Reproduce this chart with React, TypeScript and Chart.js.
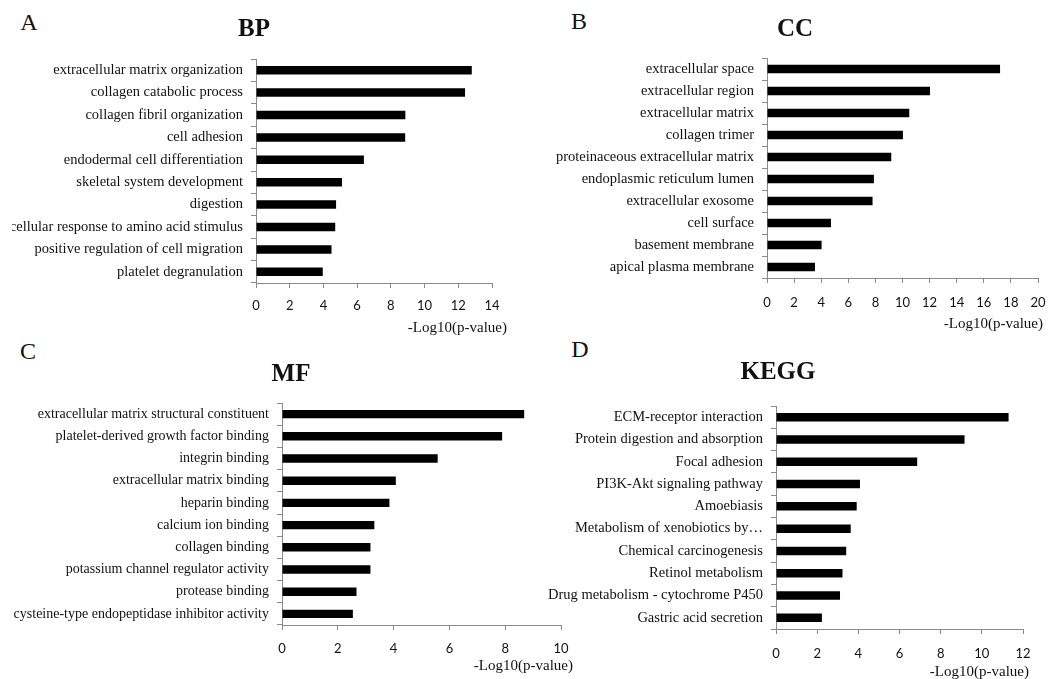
import React, { useEffect, useRef } from "react";
import { Chart, registerables } from "chart.js";

Chart.register(...registerables);

// ---------- DATA ----------
const bpLabels = [
  "extracellular matrix organization",
  "collagen catabolic process",
  "collagen fibril organization",
  "cell adhesion",
  "endodermal cell differentiation",
  "skeletal system development",
  "digestion",
  "cellular response to amino acid stimulus",
  "positive regulation of cell migration",
  "platelet degranulation",
];
const bpValues = [12.8, 12.4, 8.86, 8.85, 6.4, 5.1, 4.75, 4.7, 4.48, 3.96];

const ccLabels = [
  "extracellular space",
  "extracellular region",
  "extracellular matrix",
  "collagen trimer",
  "proteinaceous extracellular matrix",
  "endoplasmic reticulum lumen",
  "extracellular exosome",
  "cell surface",
  "basement membrane",
  "apical plasma membrane",
];
const ccValues = [17.2, 12.03, 10.5, 10.03, 9.17, 7.89, 7.79, 4.72, 4.03, 3.54];

const mfLabels = [
  "extracellular matrix structural constituent",
  "platelet-derived growth factor binding",
  "integrin binding",
  "extracellular matrix binding",
  "heparin binding",
  "calcium ion binding",
  "collagen binding",
  "potassium channel regulator activity",
  "protease binding",
  "cysteine-type endopeptidase inhibitor activity",
];
const mfValues = [8.68, 7.89, 5.58, 4.08, 3.85, 3.31, 3.17, 3.17, 2.67, 2.54];

const keggLabels = [
  "ECM-receptor interaction",
  "Protein digestion and absorption",
  "Focal adhesion",
  "PI3K-Akt signaling pathway",
  "Amoebiasis",
  "Metabolism of xenobiotics by…",
  "Chemical carcinogenesis",
  "Retinol metabolism",
  "Drug metabolism - cytochrome P450",
  "Gastric acid secretion",
];
const keggValues = [11.3, 9.16, 6.86, 4.08, 3.92, 3.63, 3.41, 3.23, 3.11, 2.23];

const axisMax = { bp: 14, cc: 20, mf: 10, kegg: 12 };
const axisStep = 2;
const xAxisTitle = "-Log10(p-value)";

// ---------- LAYOUT / STYLE ----------
const SERIF = "'Liberation Serif', 'Times New Roman', serif";
const SANS = "Lato, 'Open Sans', sans-serif";
const AXIS_COLOR = "#8a8a8a";
const TEXT_COLOR = "#111";

type Panel = {
  letter: string;
  title: string;
  labels: string[];
  values: number[];
  max: number;
  canvasLeft: number;
  x0: number;
  x1: number;
  y0: number;
  y1: number;
  labelSize: number;
  tickPad: number;
  letterX: number;
  letterY: number;
  titleX: number;
  titleY: number;
  axisTitleRight: number;
  axisTitleY: number;
};

const panels: Panel[] = [
  {
    letter: "A", title: "BP", labels: bpLabels, values: bpValues, max: axisMax.bp,
    canvasLeft: 12, x0: 256, x1: 492, y0: 59, y1: 283, labelSize: 14.5, tickPad: 10,
    letterX: 29, letterY: 21.5, titleX: 254, titleY: 27, axisTitleRight: 507, axisTitleY: 326.5,
  },
  {
    letter: "B", title: "CC", labels: ccLabels, values: ccValues, max: axisMax.cc,
    canvasLeft: 530, x0: 767, x1: 1038, y0: 58, y1: 278, labelSize: 14.5, tickPad: 12,
    letterX: 579, letterY: 20.5, titleX: 795, titleY: 26.5, axisTitleRight: 1043, axisTitleY: 323,
  },
  {
    letter: "C", title: "MF", labels: mfLabels, values: mfValues, max: axisMax.mf,
    canvasLeft: 0, x0: 282, x1: 561, y0: 403, y1: 625, labelSize: 14, tickPad: 11,
    letterX: 28, letterY: 350.5, titleX: 291, titleY: 372, axisTitleRight: 573, axisTitleY: 665,
  },
  {
    letter: "D", title: "KEGG", labels: keggLabels, values: keggValues, max: axisMax.kegg,
    canvasLeft: 530, x0: 776, x1: 1023, y0: 406, y1: 629, labelSize: 14.5, tickPad: 12,
    letterX: 580, letterY: 348.5, titleX: 778, titleY: 370, axisTitleRight: 1029, axisTitleY: 670.5,
  },
];

const PAD_TOP = 24;
const PAD_RIGHT = 28;
const X_AXIS_H = 44;

function BarPanel({ p }: { p: Panel }) {
  const ref = useRef<HTMLCanvasElement | null>(null);
  const top = p.y0 - PAD_TOP;
  const width = p.x1 + PAD_RIGHT - p.canvasLeft;
  const height = p.y1 + X_AXIS_H - top;

  useEffect(() => {
    if (!ref.current) return;
    const chart = new Chart(ref.current, {
      type: "bar",
      data: {
        labels: p.labels,
        datasets: [
          {
            data: p.values,
            backgroundColor: "#000",
            borderWidth: 0,
            barPercentage: 0.38,
            categoryPercentage: 1,
          },
        ],
      },
      options: {
        indexAxis: "y",
        responsive: false,
        animation: false,
        devicePixelRatio: 1,
        layout: { padding: { top: PAD_TOP, right: PAD_RIGHT, left: 0, bottom: 0 } },
        plugins: { legend: { display: false }, tooltip: { enabled: false }, title: { display: false } },
        scales: {
          x: {
            type: "linear",
            min: 0,
            max: p.max,
            border: { display: true, color: AXIS_COLOR, width: 1 },
            grid: { display: true, drawOnChartArea: false, drawTicks: true, tickLength: 5, color: AXIS_COLOR },
            ticks: {
              stepSize: axisStep,
              padding: p.tickPad,
              color: TEXT_COLOR,
              font: { family: SANS, size: 13 },
              maxRotation: 0,
            },
            afterFit: (s: any) => {
              s.height = X_AXIS_H;
            },
          },
          y: {
            type: "category",
            border: { display: true, color: AXIS_COLOR, width: 1 },
            grid: { display: true, offset: true, drawOnChartArea: false, drawTicks: true, tickLength: 5, color: AXIS_COLOR },
            ticks: {
              autoSkip: false,
              padding: 8,
              color: TEXT_COLOR,
              font: { family: SERIF, size: p.labelSize },
            },
            afterFit: (s: any) => {
              s.width = p.x0 - p.canvasLeft;
            },
          },
        },
      } as any,
    });
    return () => chart.destroy();
  }, [p]);

  return (
    <canvas
      ref={ref}
      width={width}
      height={height}
      style={{ position: "absolute", left: p.canvasLeft, top, width, height }}
    />
  );
}

function PanelText({ p }: { p: Panel }) {
  const common: React.CSSProperties = {
    position: "absolute",
    lineHeight: 1,
    whiteSpace: "nowrap",
    color: TEXT_COLOR,
    fontFamily: SERIF,
  };
  return (
    <>
      <div style={{ ...common, left: p.letterX, top: p.letterY, fontSize: 24, transform: "translate(-50%, -50%)" }}>
        {p.letter}
      </div>
      <div
        style={{ ...common, left: p.titleX, top: p.titleY, fontSize: 25, fontWeight: "bold", transform: "translate(-50%, -50%)" }}
      >
        {p.title}
      </div>
      <div
        style={{ ...common, right: 1064 - p.axisTitleRight, top: p.axisTitleY, fontSize: 15, transform: "translateY(-50%)" }}
      >
        {xAxisTitle}
      </div>
    </>
  );
}

export default function App() {
  return (
    <div
      style={{
        position: "absolute",
        left: 0,
        top: 0,
        width: 1064,
        height: 679,
        background: "#fff",
        overflow: "hidden",
      }}
    >
      {panels.map((p) => (
        <BarPanel key={p.letter + "c"} p={p} />
      ))}
      {panels.map((p) => (
        <PanelText key={p.letter + "t"} p={p} />
      ))}
    </div>
  );
}
